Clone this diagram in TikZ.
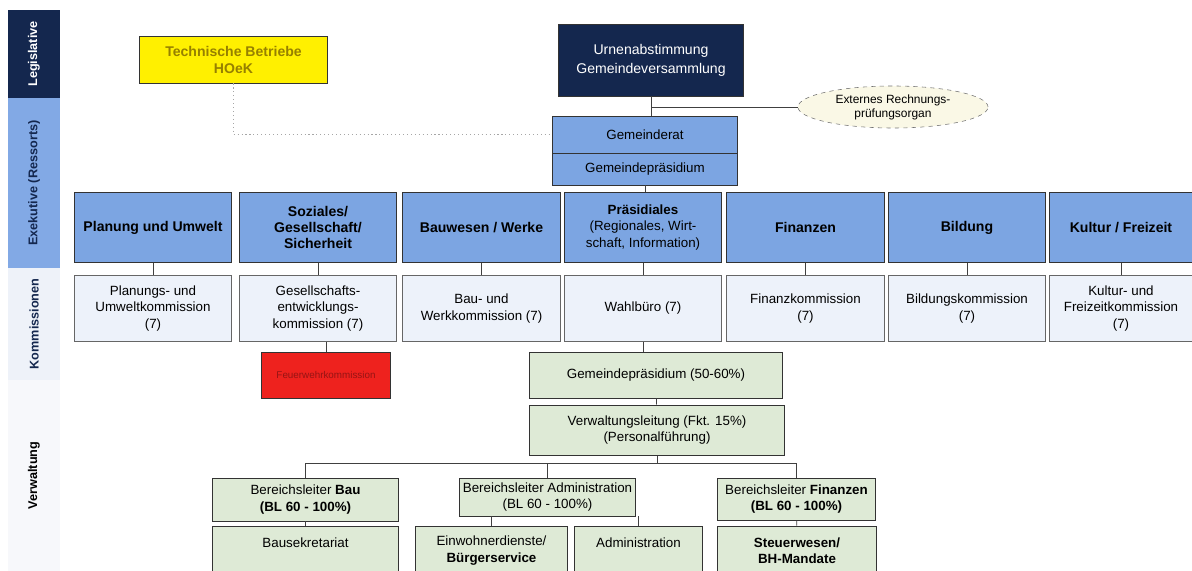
\documentclass[tikz,border=0pt]{standalone}
\usepackage{fontspec}
\setmainfont{Liberation Sans}
\usepackage{xcolor}
\usepackage{tikz}
\usetikzlibrary{calc}
\usetikzlibrary{shapes}
\usetikzlibrary{shapes.geometric}

\definecolor{navy}{RGB}{20,39,78}
\definecolor{ressortblue}{RGB}{124,165,226}
\definecolor{bandblue}{RGB}{130,169,229}
\definecolor{komblue}{RGB}{237,242,250}
\definecolor{bandlight}{RGB}{238,242,249}
\definecolor{bandpale}{RGB}{247,248,251}
\definecolor{verwgreen}{RGB}{222,234,214}
\definecolor{hoekyellow}{RGB}{255,240,0}
\definecolor{hoektext}{RGB}{150,128,0}
\definecolor{feuerred}{RGB}{238,34,30}
\definecolor{feuertext}{RGB}{150,20,20}
\definecolor{cream}{RGB}{250,248,230}

\tikzset{>=latex}
\tikzstyle{box} = [rectangle, draw=black!80, line width=0.7pt, align=center, inner sep=2pt, font=\fontsize{9.5}{11.5}\selectfont]
\tikzstyle{ressort} = [box, fill=ressortblue, minimum width=3.925cm, minimum height=1.725cm, font=\fontsize{10}{11.5}\selectfont\bfseries]
\tikzstyle{kommission} = [box, fill=komblue, draw=black!60, minimum width=3.925cm, minimum height=1.625cm]
\tikzstyle{verw} = [box, fill=verwgreen]
\tikzstyle{band} = [rectangle, rotate=90, minimum height=1.3cm, font=\fontsize{9}{10}\selectfont\bfseries]
\tikzstyle{link} = [-, draw=black!75, line width=0.6pt]

\begin{document}
\begin{tikzpicture}[x=0.025cm, y=-0.025cm]
\useasboundingbox (0,0) rectangle (1192,571);

% Ebenen links
\node [band, fill=navy, text=white, minimum width=2.2cm] (leg) at (34,54) {Legislative};
\node [band, fill=bandblue, text=navy, minimum width=4.25cm] (exe) at (34,183) {Exekutive (Ressorts)};
\node [band, fill=bandlight, text=navy, minimum width=2.8cm] (kom) at (34,324) {Kommissionen};
\node [band, fill=bandpale, text=black, minimum width=4.775cm] (ver) at (34,475.5) {Verwaltung};

% Legislative
\node [box, fill=hoekyellow, text=hoektext, font=\fontsize{10}{12}\selectfont\bfseries, minimum width=4.675cm, minimum height=1.15cm] (hoek) at (233.5,60) {Technische Betriebe\\HOeK};
\node [box, fill=navy, text=white, font=\fontsize{10}{13}\selectfont, minimum width=4.625cm, minimum height=1.775cm] (urne) at (651,60.5) {Urnenabstimmung\\Gemeindeversammlung};
\node [ellipse, draw=black!55, dashed, fill=cream, align=center, inner sep=1pt, minimum width=4.75cm, minimum height=1.05cm, font=\fontsize{8.5}{10}\selectfont] (rpo) at (893,107) {Externes Rechnungs-\\prüfungsorgan};

% Exekutive
\node [box, fill=ressortblue, minimum width=4.6cm, minimum height=0.925cm] (grat) at (645,134.5) {Gemeinderat};
\node [box, fill=ressortblue, minimum width=4.6cm, minimum height=0.8cm] (gpraes) at (645,169) {Gemeindepräsidium};

\node [ressort] (r1) at (153,227.5) {Planung und Umwelt};
\node [ressort] (r2) at (318,227.5) {Soziales/\\Gesellschaft/\\Sicherheit};
\node [ressort] (r3) at (481.5,227.5) {Bauwesen / Werke};
\node [ressort, font=\fontsize{9.5}{11.5}\selectfont] (r4) at (643,227.5) {\textbf{Präsidiales}\\(Regionales, Wirt-\\schaft, Information)};
\node [ressort] (r5) at (805.5,227.5) {Finanzen};
\node [ressort] (r6) at (967,227.5) {Bildung};
\node [ressort, minimum width=3.55cm] (r7) at (1121,227.5) {Kultur / Freizeit};

% Kommissionen
\node [kommission] (k1) at (153,308.5) {Planungs- und\\Umweltkommission\\(7)};
\node [kommission] (k2) at (318,308.5) {Gesellschafts-\\entwicklungs-\\kommission (7)};
\node [kommission] (k3) at (481.5,308.5) {Bau- und\\Werkkommission (7)};
\node [kommission] (k4) at (643,308.5) {Wahlbüro (7)};
\node [kommission] (k5) at (805.5,308.5) {Finanzkommission\\(7)};
\node [kommission] (k6) at (967,308.5) {Bildungskommission\\(7)};
\node [kommission, minimum width=3.55cm] (k7) at (1121,308.5) {Kultur- und\\Freizeitkommission\\(7)};

\node [box, fill=feuerred, text=feuertext, font=\fontsize{7}{9}\selectfont, minimum width=3.2cm, minimum height=1.15cm] (feuer) at (326,375) {Feuerwehrkommission};

% Verwaltung
\node [verw, minimum width=6.3cm, minimum height=1.15cm] (gp) at (656,375) {Gemeindepräsidium (50-60\%)};
\node [verw, minimum width=6.375cm, minimum height=1.25cm] (vl) at (657,430) {Verwaltungsleitung (Fkt. 15\%)\\(Personalführung)};

\node [verw, minimum width=4.625cm, minimum height=1.075cm] (blbau) at (305.5,499.5) {Bereichsleiter \textbf{Bau}\\\textbf{(BL 60 - 100\%)}};
\node [verw, minimum width=4.375cm, minimum height=0.95cm] (bladm) at (547.5,497) {Bereichsleiter Administration\\(BL 60 - 100\%)};
\node [verw, minimum width=3.925cm, minimum height=1.05cm] (blfin) at (796.5,499) {Bereichsleiter \textbf{Finanzen}\\\textbf{(BL 60 - 100\%)}};

\node [verw, minimum width=4.625cm, minimum height=1.225cm] (bsek) at (305.5,550.5) {Bausekretariat\\ ~};
\node [verw, minimum width=3.775cm, minimum height=1.225cm] (einw) at (491.5,550.5) {Einwohnerdienste/\\\textbf{Bürgerservice}};
\node [verw, minimum width=3.175cm, minimum height=1.225cm] (admin) at (638.5,550.5) {Administration\\ ~};
\node [verw, minimum width=3.95cm, minimum height=1.225cm] (steuer) at (797,550.5) {\textbf{Steuerwesen/}\\\textbf{BH-Mandate}};

% Verbindungen
\draw [dotted, draw=black!35, line width=0.8pt] (hoek.south) |- (grat.west);
\draw [link] (urne.south) -- (urne.south |- grat.north);
\draw [link] (urne.south |- rpo.west) -- (rpo.west);
\draw [link] (gpraes.south) -- (gpraes.south |- r4.north);
\foreach \i in {1,...,7}
  \draw [link] (r\i) -- (k\i);
\draw [link] (feuer.north) -- (feuer.north |- k2.south);
\draw [link] (k4.south) -- (k4.south |- gp.north);
\draw [link] (gp) -- (vl);
\coordinate (bus) at (0,463);
\draw [link] (vl.south) -- (vl.south |- bus);
\draw [link] (blbau.north) |- (bus -| blfin.north) -- (blfin.north);
\draw [link] (bladm.north) -- (bladm.north |- bus);
\draw [link] (blbau) -- (bsek);
\draw [link] (blfin) -- (steuer);
\draw [link] (einw.north) -- (einw.north |- bladm.south);
\draw [link] (admin.north) -- (admin.north |- bladm.south);
\end{tikzpicture}
\end{document}
